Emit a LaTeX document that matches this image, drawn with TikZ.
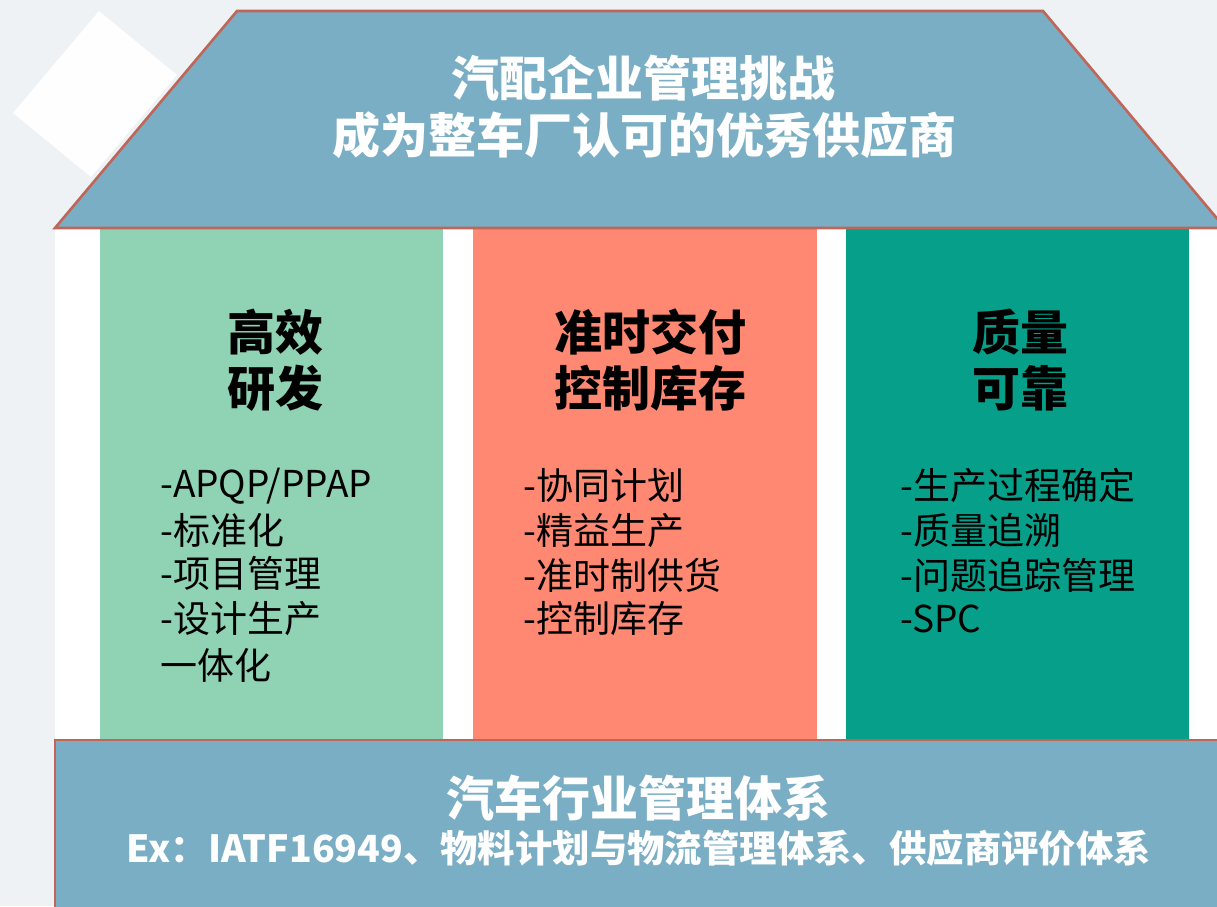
\documentclass[tikz,border=0pt]{standalone}
\usepackage{fontspec}
\setmainfont{Noto Sans CJK SC}
\definecolor{bgc}{RGB}{238,242,245}
\definecolor{roofc}{RGB}{122,174,196}
\definecolor{edgec}{RGB}{192,102,88}
\definecolor{greenc}{RGB}{143,210,180}
\definecolor{salmonc}{RGB}{255,136,114}
\definecolor{tealc}{RGB}{6,159,138}
\tikzset{
  bigwhite/.style={text=white,font=\fontsize{48}{56}\selectfont\bfseries,inner sep=0pt},
  subwhite/.style={text=white,font=\fontsize{37.4}{44}\selectfont\bfseries,inner sep=0pt},
  pilltitle/.style={text=black,font=\fontsize{48}{56}\selectfont\bfseries,inner sep=0pt},
  item/.style={text=black,font=\fontsize{37}{44}\selectfont,inner sep=0pt,anchor=base west},
  border/.style={draw=edgec,line width=2.6pt,line join=miter}
}
\begin{document}
\begin{tikzpicture}[x=1pt,y=-1pt]
\clip (0,0) rectangle (1217,906);
\fill[bgc] (0,0) rectangle (1217,906);
% white diamond
\fill[white!99!gray] (99,11) -- (177,75) -- (91,177) -- (13,113) -- cycle;
% white backing behind pillars
\fill[white] (55,228) rectangle (1230,745);
% pillars
\fill[greenc] (100,228) rectangle (443,745);
\fill[salmonc] (473,228) rectangle (817,745);
\fill[tealc] (846,228) rectangle (1189,745);
% roof
\filldraw[fill=roofc,border] (237,11) -- (1043,11) -- (1225,228) -- (55,228) -- cycle;
% base
\filldraw[fill=roofc,border] (55,1000) -- (55,740) -- (1240,740) -- (1240,1000);
% roof text
\node[bigwhite] (r1) at (643,78) {汽配企业管理挑战};
\node[bigwhite] (r2) at (644,135) {成为整车厂认可的优秀供应商};
% pillar titles
\node[pilltitle] (g1) at (275,332) {高效};
\node[pilltitle] (g2) at (275,388) {研发};
\node[pilltitle] (s1) at (650,332) {准时交付};
\node[pilltitle] (s2) at (650,388) {控制库存};
\node[pilltitle] (t1) at (1020,332) {质量};
\node[pilltitle] (t2) at (1020,388) {可靠};
% green list
\node[item] (ga) at (160,497) {-APQP/PPAP};
\node[item] (gb) at (160,544) {-标准化};
\node[item] (gc) at (160,587) {-项目管理};
\node[item] (gd) at (160,632) {-设计生产};
\node[item] (ge) at (160,679) {一体化};
% salmon list
\node[item] (sa) at (523,499) {-协同计划};
\node[item] (sb) at (523,544) {-精益生产};
\node[item] (sc) at (523,589) {-准时制供货};
\node[item] (sd) at (523,632) {-控制库存};
% teal list
\node[item] (ta) at (900,499) {-生产过程确定};
\node[item] (tb) at (900,544) {-质量追溯};
\node[item] (tc) at (900,589) {-问题追踪管理};
\node[item] (td) at (900,632) {-SPC};
% base text
\node[bigwhite] (b1) at (638,798) {汽车行业管理体系};
\node[subwhite] (b2) at (639,848) {Ex：IATF16949、物料计划与物流管理体系、供应商评价体系};
\end{tikzpicture}
\end{document}
